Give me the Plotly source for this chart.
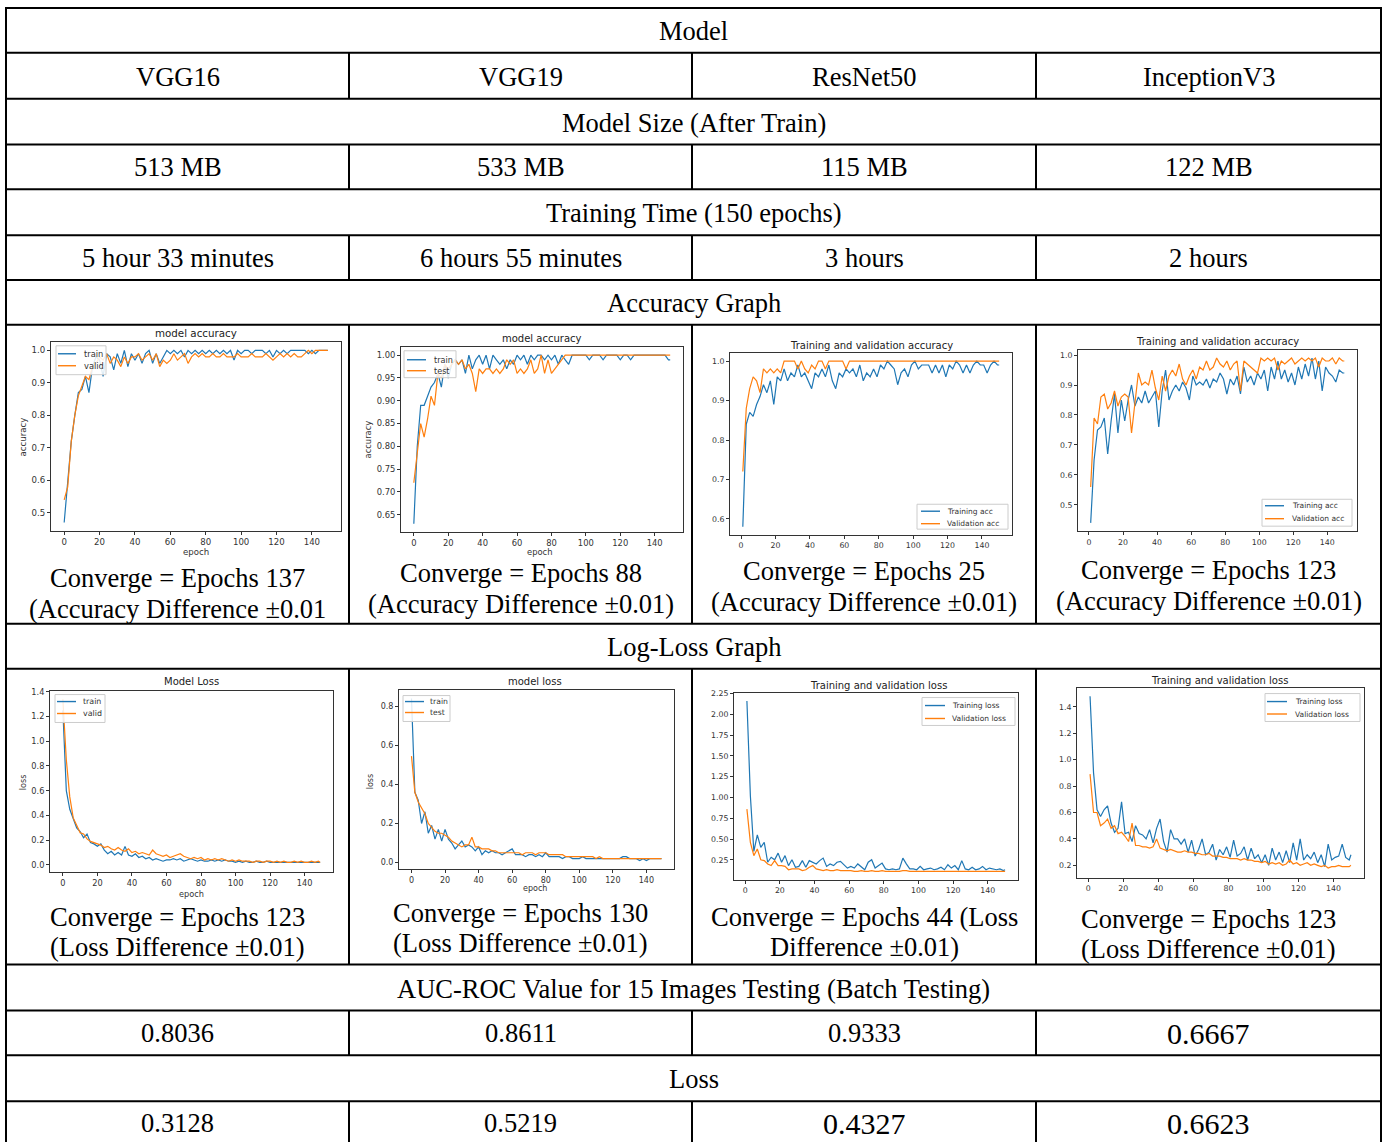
import plotly.graph_objects as go

W, H = 1387, 1142

# ---------------- table content ----------------
HEADER = "Model"
MODELS = ["VGG16", "VGG19", "ResNet50", "InceptionV3"]
SIZE_HEADER = "Model Size (After Train)"
MODEL_SIZE = ["513 MB", "533 MB", "115 MB", "122 MB"]
TIME_HEADER = "Training Time (150 epochs)"
TRAIN_TIME = ["5 hour 33 minutes", "6 hours 55 minutes", "3 hours", "2 hours"]
ACC_HEADER = "Accuracy Graph"
ACC_CAPTIONS = [
    ("Converge = Epochs 137", "(Accuracy Difference \u00b10.01"),
    ("Converge = Epochs 88", "(Accuracy Difference \u00b10.01)"),
    ("Converge = Epochs 25", "(Accuracy Difference \u00b10.01)"),
    ("Converge = Epochs 123", "(Accuracy Difference \u00b10.01)"),
]
LOSS_HEADER = "Log-Loss Graph"
LOSS_CAPTIONS = [
    ("Converge = Epochs 123", "(Loss Difference \u00b10.01)"),
    ("Converge = Epochs 130", "(Loss Difference \u00b10.01)"),
    ("Converge = Epochs 44 (Loss", "Difference \u00b10.01)"),
    ("Converge = Epochs 123", "(Loss Difference \u00b10.01)"),
]
AUC_HEADER = "AUC-ROC Value for 15 Images Testing (Batch Testing)"
AUC_ROC = ["0.8036", "0.8611", "0.9333", "0.6667"]
LOSS_ROW_HEADER = "Loss"
LOSS_VALUES = ["0.3128", "0.5219", "0.4327", "0.6623"]

# ---------------- training curves ----------------
VGG_EPOCHS = list(range(0, 150, 2)) + [149]
RES_EPOCHS = list(range(1, 150, 2)) + [150]

VGG16_ACC_TRAIN = [
    0.47, 0.59, 0.72, 0.80, 0.87, 0.88, 0.92, 0.87, 0.95, 0.98,
    0.97, 0.92, 0.99, 0.98, 0.94, 0.99, 0.96, 1.00, 0.95, 0.99,
    0.97, 0.99, 0.96, 0.99, 1.00, 0.96, 0.99, 0.96, 0.98, 1.00,
    0.99, 1.00, 0.99, 1.00, 0.98, 1.00, 0.99, 1.00, 0.99, 1.00,
    0.99, 1.00, 0.99, 1.00, 0.99, 1.00, 0.99, 1.00, 0.97, 1.00,
    0.99, 1.00, 1.00, 0.99, 1.00, 1.00, 1.00, 0.99, 1.00, 0.98,
    1.00, 0.99, 1.00, 0.99, 1.00, 1.00, 1.00, 1.00, 1.00, 0.99,
    1.00, 0.99, 1.00, 1.00, 1.00, 1.00]
VGG16_ACC_VALID = [
    0.54, 0.58, 0.72, 0.80, 0.86, 0.89, 0.92, 0.91, 0.95, 0.96,
    0.98, 0.97, 0.99, 0.96, 0.98, 0.97, 0.95, 0.98, 0.96, 0.98,
    0.98, 0.99, 0.97, 0.98, 0.99, 0.97, 0.99, 0.95, 0.97, 0.96,
    0.97, 0.99, 0.97, 0.98, 0.99, 0.96, 0.98, 0.99, 0.98, 0.99,
    0.98, 0.98, 0.99, 0.98, 0.98, 0.99, 0.98, 0.98, 0.98, 0.99,
    0.98, 0.98, 0.98, 0.99, 0.98, 0.98, 0.98, 0.99, 0.98, 0.97,
    0.98, 0.99, 0.98, 0.99, 0.98, 0.99, 0.98, 0.98, 0.99, 1.00,
    0.99, 1.00, 1.00, 1.00, 1.00, 1.00]

VGG19_ACC_TRAIN = [
    0.63, 0.80, 0.89, 0.89, 0.91, 0.93, 0.94, 0.96, 0.93, 0.98,
    0.95, 0.98, 0.99, 0.98, 0.99, 0.96, 1.00, 0.97, 0.99, 1.00,
    0.98, 1.00, 0.97, 1.00, 0.99, 0.98, 0.99, 0.97, 0.99, 0.98,
    1.00, 0.99, 1.00, 0.98, 1.00, 0.99, 1.00, 1.00, 0.99, 1.00,
    0.99, 1.00, 0.98, 1.00, 0.99, 0.98, 1.00, 1.00, 1.00, 1.00,
    1.00, 0.99, 1.00, 1.00, 1.00, 0.99, 1.00, 1.00, 1.00, 1.00,
    0.99, 1.00, 1.00, 0.99, 1.00, 1.00, 1.00, 1.00, 1.00, 1.00,
    1.00, 1.00, 1.00, 1.00, 0.99, 0.99]
VGG19_ACC_TEST = [
    0.72, 0.79, 0.85, 0.82, 0.86, 0.91, 0.89, 0.96, 0.95, 0.98,
    0.97, 0.98, 0.99, 0.98, 0.99, 0.97, 0.98, 0.96, 0.92, 0.97,
    0.96, 0.97, 0.97, 0.96, 0.97, 0.96, 0.97, 0.99, 0.98, 0.99,
    0.96, 0.97, 0.96, 0.97, 0.99, 0.96, 0.97, 1.00, 0.96, 0.99,
    0.96, 0.97, 0.98, 0.99, 1.00, 1.00, 1.00, 1.00, 1.00, 1.00,
    1.00, 1.00, 1.00, 1.00, 1.00, 1.00, 1.00, 1.00, 1.00, 1.00,
    1.00, 1.00, 1.00, 1.00, 1.00, 1.00, 1.00, 1.00, 1.00, 1.00,
    1.00, 1.00, 1.00, 1.00, 1.00, 1.00]

RESNET_ACC_TRAIN = [
    0.58, 0.84, 0.87, 0.86, 0.89, 0.91, 0.94, 0.92, 0.95, 0.89,
    0.96, 0.95, 0.98, 0.95, 0.97, 0.96, 0.99, 0.96, 0.97, 0.95,
    0.93, 0.97, 0.96, 0.98, 0.96, 0.99, 0.95, 0.93, 0.97, 0.96,
    0.98, 0.97, 0.98, 0.96, 0.99, 0.95, 0.97, 0.96, 0.98, 0.96,
    0.99, 0.98, 1.00, 0.99, 0.98, 0.94, 0.97, 0.98, 0.96, 0.99,
    1.00, 0.98, 0.99, 0.99, 0.99, 0.97, 0.99, 0.97, 0.99, 0.96,
    0.99, 0.98, 1.00, 0.99, 0.97, 0.99, 0.97, 0.99, 1.00, 0.99,
    0.99, 0.97, 0.99, 1.00, 0.99, 0.99]
RESNET_ACC_VALID = [
    0.72, 0.88, 0.93, 0.96, 0.95, 0.92, 0.98, 0.97, 0.98, 0.97,
    0.98, 0.97, 1.00, 1.00, 1.00, 1.00, 0.98, 1.00, 0.98, 0.97,
    0.99, 0.98, 1.00, 1.00, 0.98, 1.00, 1.00, 1.00, 1.00, 1.00,
    0.98, 1.00, 1.00, 1.00, 1.00, 1.00, 1.00, 1.00, 1.00, 1.00,
    1.00, 1.00, 1.00, 1.00, 1.00, 1.00, 1.00, 1.00, 1.00, 1.00,
    1.00, 1.00, 1.00, 1.00, 1.00, 1.00, 1.00, 1.00, 1.00, 1.00,
    1.00, 1.00, 1.00, 1.00, 1.00, 1.00, 1.00, 1.00, 1.00, 1.00,
    1.00, 1.00, 1.00, 1.00, 1.00, 1.00]

INCEPTION_ACC_TRAIN = [
    0.44, 0.65, 0.75, 0.76, 0.79, 0.67, 0.78, 0.87, 0.74, 0.85,
    0.78, 0.85, 0.90, 0.83, 0.86, 0.84, 0.88, 0.84, 0.86, 0.88,
    0.76, 0.88, 0.95, 0.85, 0.88, 0.90, 0.88, 0.91, 0.89, 0.85,
    0.93, 0.90, 0.91, 0.90, 0.92, 0.89, 0.92, 0.91, 0.94, 0.92,
    0.87, 0.92, 0.90, 0.93, 0.87, 0.96, 0.91, 0.93, 0.90, 0.94,
    0.92, 0.95, 0.88, 0.96, 0.92, 0.98, 0.92, 0.95, 0.91, 0.94,
    0.90, 0.96, 0.92, 0.97, 0.93, 0.99, 0.92, 0.98, 0.88, 0.96,
    0.94, 0.93, 0.91, 0.95, 0.94, 0.94]
INCEPTION_ACC_VALID = [
    0.56, 0.79, 0.77, 0.86, 0.87, 0.82, 0.84, 0.88, 0.83, 0.86,
    0.87, 0.86, 0.74, 0.85, 0.94, 0.90, 0.91, 0.90, 0.95, 0.89,
    0.85, 0.93, 0.88, 0.93, 0.95, 0.93, 0.97, 0.92, 0.90, 0.93,
    0.95, 0.92, 0.96, 0.95, 0.98, 0.95, 0.96, 0.99, 0.97, 0.96,
    0.98, 0.95, 0.97, 0.98, 0.88, 0.98, 0.97, 0.96, 0.95, 0.94,
    0.99, 0.98, 0.99, 0.98, 0.99, 0.95, 0.98, 0.97, 0.98, 0.99,
    0.97, 0.98, 0.99, 0.98, 0.99, 0.98, 0.99, 0.96, 0.99, 0.98,
    0.98, 0.99, 0.97, 0.99, 0.98, 0.98]

VGG16_LOSS_TRAIN = [
    1.25, 0.60, 0.45, 0.38, 0.30, 0.27, 0.22, 0.25, 0.18, 0.17,
    0.15, 0.17, 0.12, 0.09, 0.11, 0.08, 0.10, 0.08, 0.15, 0.08,
    0.07, 0.09, 0.06, 0.07, 0.05, 0.06, 0.04, 0.05, 0.04, 0.03,
    0.04, 0.04, 0.05, 0.04, 0.05, 0.03, 0.04, 0.05, 0.04, 0.03,
    0.04, 0.03, 0.03, 0.04, 0.03, 0.04, 0.03, 0.04, 0.03, 0.03,
    0.02, 0.03, 0.02, 0.03, 0.02, 0.02, 0.03, 0.02, 0.02, 0.03,
    0.02, 0.02, 0.02, 0.02, 0.02, 0.02, 0.02, 0.02, 0.02, 0.02,
    0.02, 0.02, 0.02, 0.02, 0.02, 0.02]
VGG16_LOSS_VALID = [
    1.34, 0.85, 0.55, 0.38, 0.32, 0.26, 0.25, 0.21, 0.19, 0.18,
    0.17, 0.16, 0.14, 0.15, 0.13, 0.12, 0.14, 0.12, 0.11, 0.13,
    0.10, 0.11, 0.09, 0.10, 0.09, 0.08, 0.12, 0.09, 0.08, 0.07,
    0.08, 0.06, 0.07, 0.08, 0.09, 0.07, 0.06, 0.05, 0.06, 0.05,
    0.06, 0.04, 0.05, 0.04, 0.05, 0.04, 0.05, 0.04, 0.03, 0.04,
    0.03, 0.04, 0.03, 0.03, 0.03, 0.02, 0.03, 0.03, 0.02, 0.03,
    0.03, 0.02, 0.03, 0.02, 0.03, 0.02, 0.02, 0.03, 0.02, 0.03,
    0.02, 0.02, 0.03, 0.02, 0.03, 0.02]

VGG19_LOSS_TRAIN = [
    0.84, 0.36, 0.32, 0.20, 0.26, 0.15, 0.19, 0.12, 0.17, 0.11,
    0.17, 0.12, 0.10, 0.07, 0.09, 0.11, 0.08, 0.09, 0.08, 0.06,
    0.08, 0.04, 0.06, 0.05, 0.06, 0.05, 0.05, 0.04, 0.05, 0.06,
    0.07, 0.04, 0.04, 0.04, 0.03, 0.04, 0.04, 0.03, 0.04, 0.03,
    0.05, 0.03, 0.03, 0.03, 0.03, 0.02, 0.03, 0.03, 0.02, 0.02,
    0.02, 0.03, 0.02, 0.02, 0.02, 0.02, 0.02, 0.02, 0.02, 0.02,
    0.02, 0.02, 0.02, 0.03, 0.03, 0.02, 0.02, 0.02, 0.01, 0.02,
    0.01, 0.02, 0.02, 0.02, 0.02, 0.02]
VGG19_LOSS_TEST = [
    0.545, 0.36, 0.31, 0.28, 0.25, 0.20, 0.18, 0.16, 0.15, 0.15,
    0.14, 0.13, 0.11, 0.10, 0.09, 0.08, 0.09, 0.09, 0.13, 0.08,
    0.08, 0.07, 0.07, 0.07, 0.06, 0.06, 0.05, 0.05, 0.05, 0.05,
    0.05, 0.05, 0.05, 0.04, 0.05, 0.05, 0.05, 0.04, 0.05, 0.05,
    0.05, 0.04, 0.04, 0.04, 0.04, 0.04, 0.03, 0.03, 0.03, 0.03,
    0.03, 0.03, 0.03, 0.03, 0.03, 0.02, 0.03, 0.02, 0.02, 0.02,
    0.02, 0.02, 0.02, 0.02, 0.02, 0.02, 0.02, 0.02, 0.02, 0.02,
    0.02, 0.02, 0.02, 0.02, 0.02, 0.02]

RESNET_LOSS_TRAIN = [
    2.16, 1.02, 0.35, 0.55, 0.40, 0.46, 0.22, 0.28, 0.25, 0.33,
    0.22, 0.30, 0.18, 0.25, 0.16, 0.17, 0.24, 0.16, 0.24, 0.22,
    0.20, 0.24, 0.27, 0.17, 0.20, 0.18, 0.22, 0.23, 0.19, 0.15,
    0.17, 0.15, 0.20, 0.17, 0.13, 0.22, 0.25, 0.15, 0.18, 0.21,
    0.14, 0.13, 0.14, 0.13, 0.14, 0.27, 0.20, 0.14, 0.14, 0.13,
    0.17, 0.13, 0.14, 0.15, 0.13, 0.14, 0.16, 0.13, 0.19, 0.15,
    0.18, 0.13, 0.24, 0.14, 0.13, 0.16, 0.13, 0.14, 0.17, 0.13,
    0.15, 0.14, 0.13, 0.14, 0.12, 0.13]
RESNET_LOSS_VALID = [
    0.86, 0.46, 0.30, 0.38, 0.25, 0.24, 0.20, 0.18, 0.24, 0.18,
    0.18, 0.17, 0.13, 0.14, 0.14, 0.14, 0.12, 0.13, 0.16, 0.18,
    0.14, 0.13, 0.12, 0.13, 0.12, 0.12, 0.13, 0.12, 0.12, 0.12,
    0.12, 0.11, 0.11, 0.12, 0.11, 0.11, 0.12, 0.11, 0.11, 0.12,
    0.11, 0.11, 0.11, 0.11, 0.11, 0.12, 0.12, 0.11, 0.11, 0.11,
    0.11, 0.11, 0.11, 0.11, 0.11, 0.11, 0.11, 0.11, 0.11, 0.11,
    0.11, 0.11, 0.11, 0.11, 0.11, 0.11, 0.11, 0.11, 0.11, 0.11,
    0.11, 0.11, 0.11, 0.11, 0.11, 0.11]

INCEPTION_LOSS_TRAIN = [
    1.48, 0.90, 0.62, 0.57, 0.62, 0.65, 0.52, 0.45, 0.48, 0.68,
    0.44, 0.45, 0.38, 0.50, 0.44, 0.43, 0.40, 0.47, 0.37, 0.48,
    0.55, 0.38, 0.30, 0.47, 0.40, 0.40, 0.36, 0.40, 0.30, 0.39,
    0.27, 0.32, 0.40, 0.28, 0.30, 0.36, 0.24, 0.32, 0.28, 0.34,
    0.26, 0.39, 0.27, 0.29, 0.34, 0.24, 0.33, 0.25, 0.28, 0.22,
    0.28, 0.20, 0.33, 0.24, 0.30, 0.22, 0.31, 0.22, 0.37, 0.24,
    0.40, 0.24, 0.28, 0.25, 0.30, 0.22, 0.28, 0.19, 0.36, 0.24,
    0.26, 0.27, 0.36, 0.26, 0.24, 0.28]
INCEPTION_LOSS_VALID = [
    0.89, 0.60, 0.60, 0.50, 0.52, 0.55, 0.48, 0.50, 0.44, 0.45,
    0.42, 0.38, 0.52, 0.35, 0.35, 0.34, 0.34, 0.33, 0.34, 0.40,
    0.33, 0.32, 0.31, 0.32, 0.31, 0.30, 0.30, 0.31, 0.30, 0.30,
    0.29, 0.29, 0.28, 0.28, 0.29, 0.27, 0.27, 0.27, 0.26, 0.26,
    0.25, 0.25, 0.25, 0.24, 0.25, 0.24, 0.24, 0.23, 0.23, 0.22,
    0.23, 0.21, 0.22, 0.21, 0.22, 0.20, 0.21, 0.24, 0.21, 0.22,
    0.20, 0.21, 0.22, 0.20, 0.21, 0.20, 0.19, 0.20, 0.18, 0.19,
    0.19, 0.20, 0.19, 0.19, 0.19, 0.20]

EPOCH_TICKS = [0, 20, 40, 60, 80, 100, 120, 140]

BLUE = "#1f77b4"
ORANGE = "#ff7f0e"
SERIF = "Liberation Serif"
SANS = "DejaVu Sans"
AXC = "#333333"


def X(px):
    """window pixel -> paper fraction"""
    return px / W


def Y(py):
    return 1 - py / H


CHARTS = [
    dict(ep=VGG_EPOCHS, a=VGG16_ACC_TRAIN, b=VGG16_ACC_VALID, names=("train", "valid"),
         box=(51, 339, 341, 529), xr=(-7.45, 156.45), yr=(0.4435, 1.0265),
         yt=[0.5, 0.6, 0.7, 0.8, 0.9, 1.0], fmt=".1f",
         title="model accuracy", tpos=(196, 330), ylab=("accuracy", 23, 435), xlab=("epoch", 196, 550),
         leg=(56, 343, 106, 372), lrows=(351, 363), lx=(58, 76, 82), fs=8.6, ts=10.3),
    dict(ep=VGG_EPOCHS, a=VGG19_ACC_TRAIN, b=VGG19_ACC_TEST, names=("train", "test"),
         box=(401, 344, 683, 530), xr=(-7.45, 156.45), yr=(0.6115, 1.0185),
         yt=[0.65, 0.70, 0.75, 0.80, 0.85, 0.90, 0.95, 1.00], fmt=".2f",
         title="model accuracy", tpos=(542, 336), ylab=("accuracy", 368, 437), xlab=("epoch", 540, 550),
         leg=(404, 348, 456, 375), lrows=(357, 368), lx=(407, 426, 432), fs=8.4, ts=10),
    dict(ep=RES_EPOCHS, a=RESNET_ACC_TRAIN, b=RESNET_ACC_VALID, names=("Training acc", "Validation acc"),
         box=(730, 350, 1012, 533), xr=(-6.45, 157.45), yr=(0.559, 1.021),
         yt=[0.6, 0.7, 0.8, 0.9, 1.0], fmt=".1f",
         title="Training and validation accuracy", tpos=(871, 343), ylab=None, xlab=None,
         leg=(917, 502, 1008, 527), lrows=(509, 521.5), lx=(921, 940, 945), fs=7.8, ts=10),
    dict(ep=RES_EPOCHS, a=INCEPTION_ACC_TRAIN, b=INCEPTION_ACC_VALID, names=("Training acc", "Validation acc"),
         box=(1078, 347, 1357, 529), xr=(-6.45, 157.45), yr=(0.4125, 1.0175),
         yt=[0.5, 0.6, 0.7, 0.8, 0.9, 1.0], fmt=".1f",
         title="Training and validation accuracy", tpos=(1217, 339), ylab=None, xlab=None,
         leg=(1262, 497, 1352, 524), lrows=(503.5, 516.5), lx=(1265, 1284, 1290), fs=7.8, ts=10),
    dict(ep=VGG_EPOCHS, a=VGG16_LOSS_TRAIN, b=VGG16_LOSS_VALID, names=("train", "valid"),
         box=(50, 689, 333, 871), xr=(-7.45, 156.45), yr=(-0.057, 1.41),
         yt=[0.0, 0.2, 0.4, 0.6, 0.8, 1.0, 1.2, 1.4], fmt=".1f",
         title="Model Loss", tpos=(191, 680), ylab=("loss", 23, 781), xlab=("epoch", 191, 893),
         leg=(55, 693, 105, 721), lrows=(700, 712), lx=(57, 76, 81), fs=8.2, ts=10),
    dict(ep=VGG_EPOCHS, a=VGG19_LOSS_TRAIN, b=VGG19_LOSS_TEST, names=("train", "test"),
         box=(399, 688, 674, 868), xr=(-7.45, 156.45), yr=(-0.033, 0.886),
         yt=[0.0, 0.2, 0.4, 0.6, 0.8], fmt=".1f",
         title="model loss", tpos=(535, 680), ylab=("loss", 370, 781), xlab=("epoch", 535, 888),
         leg=(403, 694, 450, 720), lrows=(700, 711), lx=(405, 424, 428), fs=8, ts=10),
    dict(ep=RES_EPOCHS, a=RESNET_LOSS_TRAIN, b=RESNET_LOSS_VALID, names=("Training loss", "Validation loss"),
         box=(734, 691, 1018, 879), xr=(-6.45, 157.45), yr=(0.0075, 2.2625),
         yt=[0.25, 0.5, 0.75, 1.0, 1.25, 1.5, 1.75, 2.0, 2.25], fmt=".2f",
         title="Training and validation loss", tpos=(878, 684), ylab=None, xlab=None,
         leg=(922, 696, 1015, 724), lrows=(704, 717), lx=(925, 945, 950), fs=7.8, ts=10),
    dict(ep=RES_EPOCHS, a=INCEPTION_LOSS_TRAIN, b=INCEPTION_LOSS_VALID, names=("Training loss", "Validation loss"),
         box=(1077, 686, 1364, 877), xr=(-6.45, 157.45), yr=(0.1045, 1.5455),
         yt=[0.2, 0.4, 0.6, 0.8, 1.0, 1.2, 1.4], fmt=".1f",
         title="Training and validation loss", tpos=(1219, 679), ylab=None, xlab=None,
         leg=(1265, 692, 1360, 720), lrows=(700, 712.5), lx=(1267, 1287, 1293), fs=7.8, ts=10),
]

fig = go.Figure()
shapes = []
annotations = []
layout_axes = {}

for i, c in enumerate(CHARTS, start=1):
    xa = "x" if i == 1 else f"x{i}"
    ya = "y" if i == 1 else f"y{i}"
    x0, y0, x1, y1 = c["box"]
    fig.add_trace(go.Scatter(x=c["ep"], y=c["a"], mode="lines", name=c["names"][0],
                             line=dict(color=BLUE, width=1.2), xaxis=xa, yaxis=ya,
                             showlegend=False, hoverinfo="skip"))
    fig.add_trace(go.Scatter(x=c["ep"], y=c["b"], mode="lines", name=c["names"][1],
                             line=dict(color=ORANGE, width=1.2), xaxis=xa, yaxis=ya,
                             showlegend=False, hoverinfo="skip"))
    common = dict(showline=True, mirror=True, linecolor=AXC, linewidth=1, ticks="outside",
                  ticklen=3, tickwidth=1, tickcolor=AXC, showgrid=False, zeroline=False,
                  tickfont=dict(family=SANS, size=c["fs"], color=AXC), fixedrange=True)
    layout_axes["xaxis" if i == 1 else f"xaxis{i}"] = dict(
        domain=[X(x0), X(x1)], range=list(c["xr"]), anchor=ya, tickvals=EPOCH_TICKS, **common)
    layout_axes["yaxis" if i == 1 else f"yaxis{i}"] = dict(
        domain=[Y(y1), Y(y0)], range=list(c["yr"]), anchor=xa, tickvals=c["yt"],
        tickformat=c["fmt"], **common)
    annotations.append(dict(text=c["title"], x=X(c["tpos"][0]), y=Y(c["tpos"][1]), xref="paper",
                            yref="paper", showarrow=False, xanchor="center", yanchor="middle",
                            font=dict(family=SANS, size=c["ts"], color="#222")))
    if c["ylab"]:
        t, px, py = c["ylab"]
        annotations.append(dict(text=t, x=X(px), y=Y(py), xref="paper", yref="paper", showarrow=False,
                                textangle=-90, xanchor="center", yanchor="middle",
                                font=dict(family=SANS, size=c["fs"], color=AXC)))
    if c["xlab"]:
        t, px, py = c["xlab"]
        annotations.append(dict(text=t, x=X(px), y=Y(py), xref="paper", yref="paper", showarrow=False,
                                xanchor="center", yanchor="middle",
                                font=dict(family=SANS, size=c["fs"], color=AXC)))
    lx0, ly0, lx1, ly1 = c["leg"]
    shapes.append(dict(type="rect", xref="paper", yref="paper", x0=X(lx0), x1=X(lx1), y0=Y(ly1),
                       y1=Y(ly0), line=dict(color="#cccccc", width=1),
                       fillcolor="rgba(255,255,255,0.85)", layer="above"))
    for name, col, ry in zip(c["names"], (BLUE, ORANGE), c["lrows"]):
        shapes.append(dict(type="line", xref="paper", yref="paper", x0=X(c["lx"][0]), x1=X(c["lx"][1]),
                           y0=Y(ry), y1=Y(ry), line=dict(color=col, width=1.4), layer="above"))
        annotations.append(dict(text=name, x=X(c["lx"][2]), y=Y(ry), xref="paper", yref="paper",
                                showarrow=False, xanchor="left", yanchor="middle",
                                font=dict(family=SANS, size=c["fs"] - 0.3, color="#333")))

# ---------------- table grid ----------------
LEFT, RIGHT, TOP = 6, 1381, 4
COLS = [LEFT, 349, 692, 1036, RIGHT]
ROW_LINES = [TOP, 49, 95, 141, 186, 232, 277, 322, 622, 667, 964, 1010, 1055, 1101]
FOUR_COL_ROWS = [(49, 95), (141, 186), (232, 277), (322, 622), (667, 964), (1010, 1055), (1101, 1150)]
LW = 2

for ry in ROW_LINES:
    shapes.append(dict(type="line", xref="paper", yref="paper", x0=X(LEFT - 1), x1=X(RIGHT + 1),
                       y0=Y(ry), y1=Y(ry), line=dict(color="black", width=LW), layer="above"))
for cx in (LEFT, RIGHT):
    shapes.append(dict(type="line", xref="paper", yref="paper", x0=X(cx), x1=X(cx),
                       y0=Y(TOP - 1), y1=Y(1150), line=dict(color="black", width=LW), layer="above"))
for (ra, rb) in FOUR_COL_ROWS:
    for cx in COLS[1:-1]:
        shapes.append(dict(type="line", xref="paper", yref="paper", x0=X(cx), x1=X(cx),
                           y0=Y(ra), y1=Y(rb), line=dict(color="black", width=LW), layer="above"))

CENTERS = [177.5, 520.5, 864, 1208.5]
MID = 693.5


def txt(s, px, py, size=26.5):
    annotations.append(dict(text=s, x=X(px), y=Y(py), xref="paper", yref="paper", showarrow=False,
                            xanchor="center", yanchor="middle",
                            font=dict(family=SERIF, size=size, color="black")))


txt(HEADER, MID, 27)
for k, m in enumerate(MODELS):
    txt(m, CENTERS[k], 73)
txt(SIZE_HEADER, MID, 119)
for k, m in enumerate(MODEL_SIZE):
    txt(m, CENTERS[k], 164)
txt(TIME_HEADER, MID, 210)
for k, m in enumerate(TRAIN_TIME):
    txt(m, CENTERS[k], 255)
txt(ACC_HEADER, MID, 300)
ACC_CAP_Y = [(576, 607), (571, 602), (569, 600), (568, 599)]
for k, (l1, l2) in enumerate(ACC_CAPTIONS):
    txt(l1, CENTERS[k], ACC_CAP_Y[k][0])
    txt(l2, CENTERS[k], ACC_CAP_Y[k][1])
txt(LOSS_HEADER, MID, 645)
LOSS_CAP_Y = [(916, 946), (912, 942), (916, 946), (918, 948)]
for k, (l1, l2) in enumerate(LOSS_CAPTIONS):
    txt(l1, CENTERS[k], LOSS_CAP_Y[k][0])
    txt(l2, CENTERS[k], LOSS_CAP_Y[k][1])
txt(AUC_HEADER, MID, 988)
AUC_SIZES = [26.5, 26.5, 26.5, 30]
for k, m in enumerate(AUC_ROC):
    txt(m, CENTERS[k], 1033, AUC_SIZES[k])
txt(LOSS_ROW_HEADER, MID, 1079)
LOSS_SIZES = [26.5, 26.5, 30, 30]
for k, m in enumerate(LOSS_VALUES):
    txt(m, CENTERS[k], 1123, LOSS_SIZES[k])

fig.update_layout(
    width=W, height=H, margin=dict(l=0, r=0, t=0, b=0),
    paper_bgcolor="white", plot_bgcolor="white",
    shapes=shapes, annotations=annotations, showlegend=False,
    **layout_axes,
)

# remove the page's default 8px body margin so the figure fills the window exactly
fig.write_html("out.html",
               config={"displayModeBar": False, "staticPlot": True},
               post_script="document.body.style.margin='0';document.body.style.overflow='hidden';")
